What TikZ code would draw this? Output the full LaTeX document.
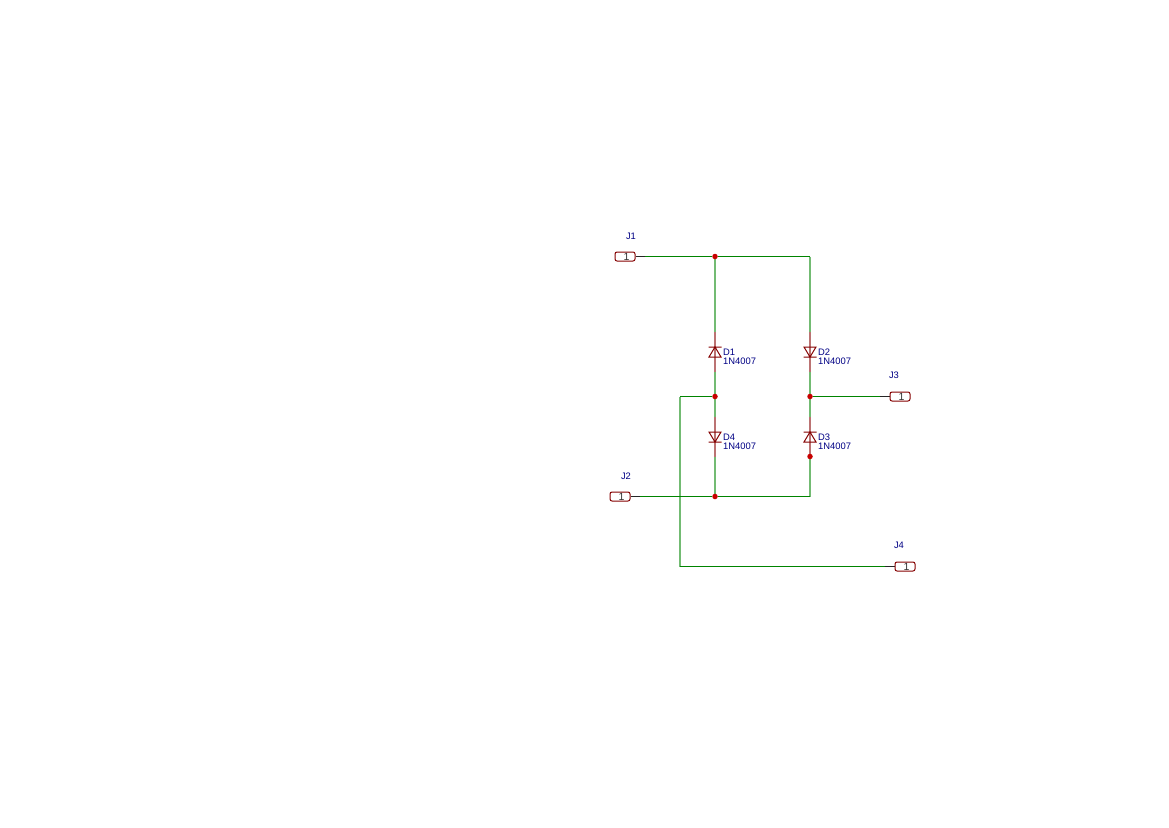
\documentclass[tikz,border=0pt]{standalone}
\usepackage{fontspec}
\setmainfont{Liberation Sans}
\usepackage{tikz}
\usetikzlibrary{backgrounds}
\definecolor{wirecol}{RGB}{0,132,0}
\definecolor{partcol}{RGB}{132,0,0}
\definecolor{textcol}{RGB}{0,0,132}
\definecolor{dotcol}{RGB}{200,0,0}
\begin{document}
\begin{tikzpicture}[x=1pt,y=-1pt]
\useasboundingbox (0,0) rectangle (1169,827);
\tikzset{wire/.style={draw=wirecol,line width=1pt},
         vwire/.style={draw=wirecol!55!white,line width=2pt},
         vpin/.style={draw=partcol!55!white,line width=2pt},
         pinline/.style={draw=black!85,line width=1pt}}

% connectors
\begin{scope}[every node/.style={draw=partcol,line width=1pt,rounded corners=2pt,minimum width=20pt,
              minimum height=9pt,inner sep=0pt,text=black!80,font=\fontsize{10.5}{11}\selectfont}]
    \node (J1) at (625,256.5) {\hspace{3pt}1};
    \node (J2) at (620,496.5) {\hspace{3pt}1};
    \node (J3) at (900,396.5) {\hspace{3pt}1};
    \node (J4) at (905,566.5) {\hspace{3pt}1};
\end{scope}

% wire points
\coordinate (j1end) at (645,256.5);
\coordinate (j2end) at (640,496.5);
\coordinate (j3end) at (880,396.5);
\coordinate (j4end) at (885,566.5);

\coordinate (D1top) at (715,332);
\coordinate (D1bot) at (715,372);
\coordinate (D2top) at (810,332);
\coordinate (D2bot) at (810,372);
\coordinate (D3top) at (810,417);
\coordinate (D3bot) at (810,456.5);
\coordinate (D4top) at (715,417);
\coordinate (D4bot) at (715,457);

\coordinate (topright) at (810,256.5);
\coordinate (botright) at (810,496.5);
\coordinate (midleft) at (680,396.5);
\coordinate (lowleft) at (680,566.5);

% junctions
\begin{scope}[every node/.style={circle,fill=dotcol,inner sep=0pt,minimum size=5.5pt}]
    \node (n1) at (715,256.5) {};
    \node (n2) at (715,396.5) {};
    \node (n3) at (810,396.5) {};
    \node (n4) at (810,456.5) {};
    \node (n5) at (715,496.5) {};
\end{scope}

\begin{pgfonlayer}{background}
% wires
\path [-,vwire] (topright) -- (D2top);
\path [-,vwire] (n1) -- (D1top);
\path [-,vwire] (D1bot) -- (n2);
\path [-,vwire] (n2) -- (D4top);
\path [-,vwire] (D4bot) -- (n5);
\path [-,vwire] (D2bot) -- (n3);
\path [-,vwire] (n3) -- (D3top);
\path [-,vwire] (n4) -- (botright);
\path [-,vwire] (midleft) -- (lowleft);

\path [-,wire] (j1end) -- (n1);
\path [-,wire] (n1) -- (topright);
\path [-,wire] (botright) -- (n5);
\path [-,wire] (n5) -- (j2end);
\path [-,wire] (n3) -- (j3end);
\path [-,wire] (n2) -- (midleft);
\path [-,wire] (lowleft) -- (j4end);

% diode pins
\path [-,vpin] (D1top) -- (D1bot);
\path [-,vpin] (D2top) -- (D2bot);
\path [-,vpin] (D3top) -- (n4);
\path [-,vpin] (D4top) -- (D4bot);

% pins
\path [-,pinline] (J1) -- (j1end);
\path [-,pinline] (J2) -- (j2end);
\path [-,pinline] (j3end) -- (J3);
\path [-,pinline] (j4end) -- (J4);
\end{pgfonlayer}

% diode bodies
\begin{scope}[line width=1pt,line join=miter]
    \draw[partcol] (709,357) -- (721,357) -- (715,347) -- cycle (708.5,347) -- (721.5,347);
    \draw[partcol] (804,347) -- (816,347) -- (810,357) -- cycle (803.5,357) -- (816.5,357);
    \draw[partcol] (804,442) -- (816,442) -- (810,432) -- cycle (803.5,432) -- (816.5,432);
    \draw[partcol] (709,432) -- (721,432) -- (715,442) -- cycle (708.5,442) -- (721.5,442);
\end{scope}

% texts
\begin{scope}[every node/.style={text=textcol,inner sep=0pt,font=\fontsize{9.4}{10}\selectfont}]
    \node (J1ref) at (631,236) {J1};
    \node (J2ref) at (626,476) {J2};
    \node (J3ref) at (894,375) {J3};
    \node (J4ref) at (899,545) {J4};

    \node[anchor=west] (D1ref) at (723,352) {D1};
    \node[anchor=west] (D1val) at (723,361) {1N4007};
    \node[anchor=west] (D2ref) at (818,352) {D2};
    \node[anchor=west] (D2val) at (818,361) {1N4007};
    \node[anchor=west] (D3ref) at (818,437) {D3};
    \node[anchor=west] (D3val) at (818,446) {1N4007};
    \node[anchor=west] (D4ref) at (723,437) {D4};
    \node[anchor=west] (D4val) at (723,446) {1N4007};
\end{scope}
\end{tikzpicture}
\end{document}
